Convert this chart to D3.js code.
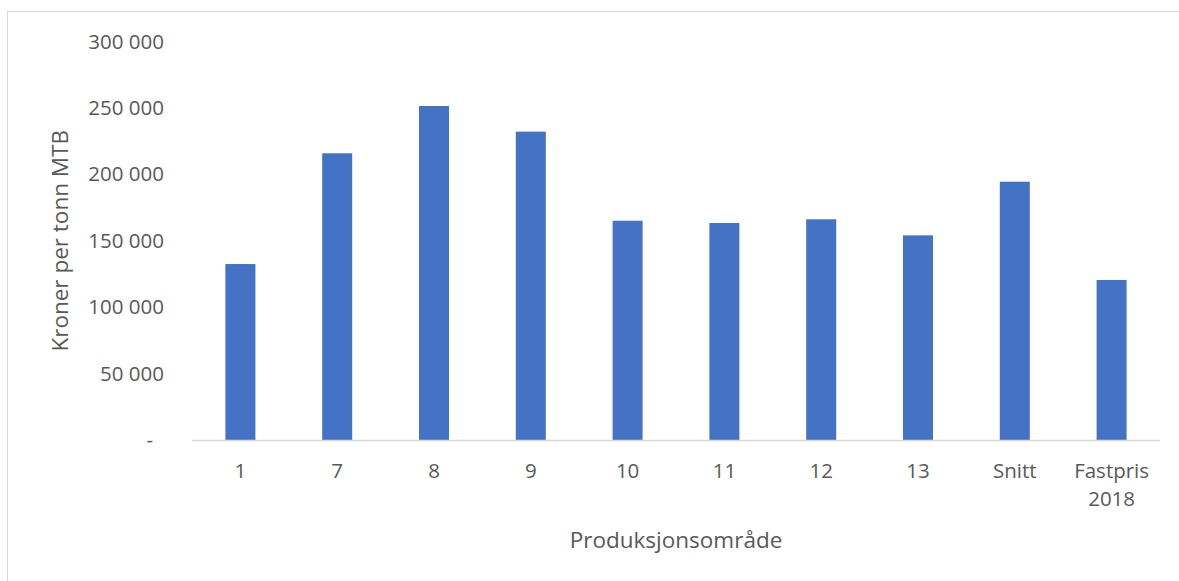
<!DOCTYPE html>
<html>
<head>
<meta charset="utf-8">
<script src="https://cdn.jsdelivr.net/npm/d3@7"></script>
<style>
  html, body { margin: 0; padding: 0; background: #fff; }
  svg { display: block; }
  text { font-family: "Open Sans", "Noto Sans", sans-serif; fill: #595959; }
</style>
</head>
<body>
<svg id="chart" width="1179" height="581"></svg>
<script>
const categories = ["1", "7", "8", "9", "10", "11", "12", "13", "Snitt", "Fastpris 2018"];
const values = [132500, 215900, 251500, 232200, 165100, 163400, 166200, 154100, 194500, 120500];
const yTicks = [0, 50000, 100000, 150000, 200000, 250000, 300000];
const yTitle = "Kroner per tonn MTB";
const xTitle = "Produksjonsområde";

const svg = d3.select("#chart");
const W = 1179, H = 581;
const m = { left: 192, right: 1160, top: 41.6, bottom: 440 };

// outer border
svg.append("rect")
  .attr("x", 7.5).attr("y", 11.5)
  .attr("width", W + 10).attr("height", H + 10)
  .attr("fill", "none").attr("stroke", "#D9D9D9").attr("stroke-width", 1);

const x = d3.scaleBand().domain(categories)
  .range([m.left, m.right]).paddingInner(0.69).paddingOuter(0.345);
const y = d3.scaleLinear().domain([0, 300000]).range([m.bottom, m.top]);

const fmt = v => v === 0 ? "-" : d3.format(",")(v).replace(/,/g, "\u2009".replace("\u2009", " "));

// y axis
const yAxis = svg.append("g")
  .attr("transform", `translate(${m.left},0)`)
  .call(d3.axisLeft(y).tickValues(yTicks).tickSize(0).tickPadding(28).tickFormat(fmt));
yAxis.select(".domain").remove();
yAxis.selectAll("text")
  .style("font-size", "20.5px")
  .style("font-family", "'Open Sans', sans-serif")
  .attr("fill", "#595959")
  .attr("dx", d => d === 0 ? -11 : 0);

// bars
svg.append("g").selectAll("rect")
  .data(categories.map((c, i) => ({ c, v: values[i] })))
  .join("rect")
  .attr("x", d => x(d.c))
  .attr("y", d => y(d.v))
  .attr("width", x.bandwidth())
  .attr("height", d => y(0) - y(d.v))
  .attr("fill", "#4472C4");

// x axis
const xAxis = svg.append("g")
  .attr("transform", `translate(0,${m.bottom})`)
  .call(d3.axisBottom(x).tickSize(0).tickPadding(0));
xAxis.select(".domain")
  .attr("stroke", "#D9D9D9").attr("stroke-width", 1.5)
  .attr("d", `M${m.left},0.5H${m.right}`);
xAxis.selectAll(".tick text").each(function(d) {
  const t = d3.select(this);
  t.text(null).attr("y", 0).attr("dy", null)
    .style("font-size", "20.5px")
    .style("font-family", "'Open Sans', sans-serif")
    .attr("fill", "#595959");
  const lines = d.split(" ");
  lines.forEach((ln, i) => {
    t.append("tspan").attr("x", 0).attr("y", 38 + i * 28).text(ln);
  });
});

// axis titles
svg.append("text")
  .attr("transform", `translate(68,${(m.top + m.bottom) / 2}) rotate(-90)`)
  .attr("text-anchor", "middle")
  .style("font-size", "22.5px")
  .text(yTitle);

svg.append("text")
  .attr("x", (m.left + m.right) / 2)
  .attr("y", 548)
  .attr("text-anchor", "middle")
  .style("font-size", "22.5px")
  .text(xTitle);
</script>
</body>
</html>
